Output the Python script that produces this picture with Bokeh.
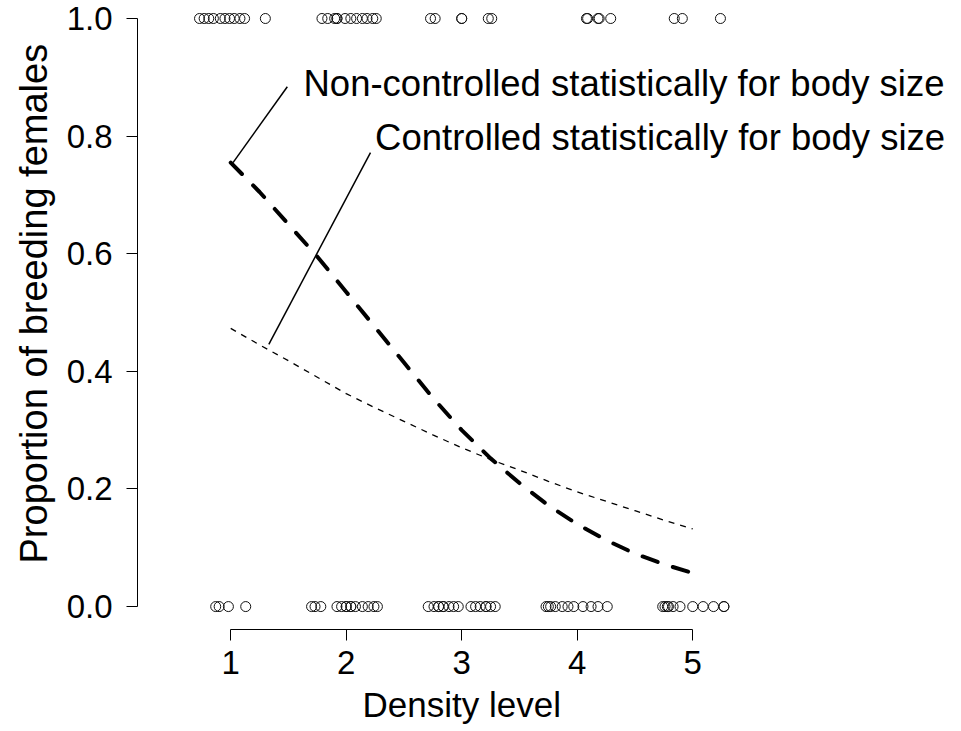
from bokeh.plotting import figure
from bokeh.models import Range1d, FixedTicker, PrintfTickFormatter, Label, Title
from bokeh.embed import file_html
from bokeh.resources import INLINE

# ---- data ----
# jittered density levels of breeding (1) and non-breeding (0) females
breeding_x = [0.73, 0.77, 0.81, 0.85, 0.91, 0.95, 0.99, 1.03, 1.08, 1.12, 1.30,
              1.79, 1.84, 1.90, 1.92, 1.92, 1.99, 2.04, 2.09, 2.14, 2.18, 2.23, 2.26,
              2.73, 2.77, 3.00, 3.00, 3.23, 3.26,
              4.08, 4.09, 4.18, 4.19, 4.29,
              4.84, 4.91, 5.24]
nonbreeding_x = [0.87, 0.90, 0.98, 1.13,
                 1.70, 1.73, 1.78, 1.92, 1.96, 2.00, 2.00, 2.04, 2.04, 2.08, 2.14, 2.19, 2.24, 2.27,
                 2.71, 2.76, 2.80, 2.80, 2.84, 2.84, 2.89, 2.93, 2.97, 3.08, 3.12, 3.16, 3.21, 3.21, 3.25, 3.29,
                 3.73, 3.75, 3.77, 3.81, 3.87, 3.92, 3.97, 4.05, 4.12, 4.18, 4.26,
                 4.74, 4.76, 4.78, 4.79, 4.83, 4.89, 5.00, 5.09, 5.18, 5.27, 5.27]

curve_x = [1.0, 1.25, 1.5, 1.75, 2.0, 2.25, 2.5, 2.75, 3.0, 3.25, 3.5, 3.75, 4.0, 4.25, 4.5, 4.75, 5.0]
noncontrolled = [0.755, 0.705, 0.650, 0.595, 0.535, 0.475, 0.415, 0.355, 0.300,
                 0.252, 0.210, 0.172, 0.140, 0.113, 0.090, 0.072, 0.057]
controlled = [0.473, 0.445, 0.418, 0.390, 0.362, 0.338, 0.315, 0.292, 0.270,
              0.250, 0.232, 0.213, 0.195, 0.179, 0.163, 0.147, 0.132]

x_ticks = [1, 2, 3, 4, 5]
y_ticks = [0.0, 0.2, 0.4, 0.6, 0.8, 1.0]

x_title = "Density level"
y_title = "Proportion of breeding females"
label_noncontrolled = "Non-controlled statistically for body size"
label_controlled = "Controlled statistically for body size"
# leader lines (x0, x1), (y0, y1) and label anchors
lead_nc_x = [1.02, 1.49]
lead_nc_y = [0.755, 0.884]
lead_c_x = [1.33, 2.21]
lead_c_y = [0.446, 0.772]
text_nc = (1.63, 0.890)
text_c = (2.25, 0.797)

FONT = "Liberation Sans"

p = figure(width=961, height=731,
           x_range=Range1d(0.193, 7.327), y_range=Range1d(-0.039, 1.017),
           output_backend="svg", toolbar_location=None,
           min_border_left=137, min_border_right=0, min_border_top=8, min_border_bottom=102)
p.xgrid.visible = False
p.ygrid.visible = False
p.outline_line_color = None
p.background_fill_color = "white"
p.border_fill_color = "white"

for ax in (p.xaxis[0], p.yaxis[0]):
    ax.major_tick_out = 11
    ax.major_tick_in = 0
    ax.minor_tick_out = 0
    ax.minor_tick_in = 0
    ax.axis_line_color = "black"
    ax.major_tick_line_color = "black"
    ax.major_label_text_font = FONT
    ax.major_label_text_font_size = "33px"
    ax.major_label_text_color = "black"

p.xaxis.bounds = (1, 5)
p.xaxis.ticker = FixedTicker(ticks=x_ticks)
p.xaxis.major_label_standoff = 10

p.yaxis.bounds = (0, 1)
p.yaxis.ticker = FixedTicker(ticks=y_ticks)
p.yaxis.formatter = PrintfTickFormatter(format="%.1f")
p.yaxis.major_label_standoff = 14

# axis titles in the side panels (placed on the tick span, as in the reference)
p.add_layout(Title(text=x_title, align="left", offset=225, standoff=13,
                   text_font=FONT, text_font_size="35px", text_font_style="normal",
                   text_color="black"), "below")
p.add_layout(Title(text=y_title, align="left", offset=66, standoff=17,
                   text_font=FONT, text_font_size="38px", text_font_style="normal",
                   text_color="black"), "left")

# raw observations
p.scatter(breeding_x, [1] * len(breeding_x), marker="circle", size=10,
          fill_color=None, line_color="#111111", line_width=1)
p.scatter(nonbreeding_x, [0] * len(nonbreeding_x), marker="circle", size=10,
          fill_color=None, line_color="#111111", line_width=1)

# fitted curves
p.line(curve_x, noncontrolled, line_color="black", line_width=4,
       line_dash="16 16", line_cap="round")
p.line(curve_x, controlled, line_color="black", line_width=1.3,
       line_dash="6 6")

# leader lines and labels
p.line(lead_nc_x, lead_nc_y, line_color="black", line_width=1.5)
p.line(lead_c_x, lead_c_y, line_color="black", line_width=1.5)
p.add_layout(Label(x=text_nc[0], y=text_nc[1], text=label_noncontrolled,
                   text_font=FONT, text_font_size="36.5px", text_color="black",
                   text_baseline="alphabetic"))
p.add_layout(Label(x=text_c[0], y=text_c[1], text=label_controlled,
                   text_font=FONT, text_font_size="36.5px", text_color="black",
                   text_baseline="alphabetic"))

open("out.html", "w").write(file_html(p, INLINE))
